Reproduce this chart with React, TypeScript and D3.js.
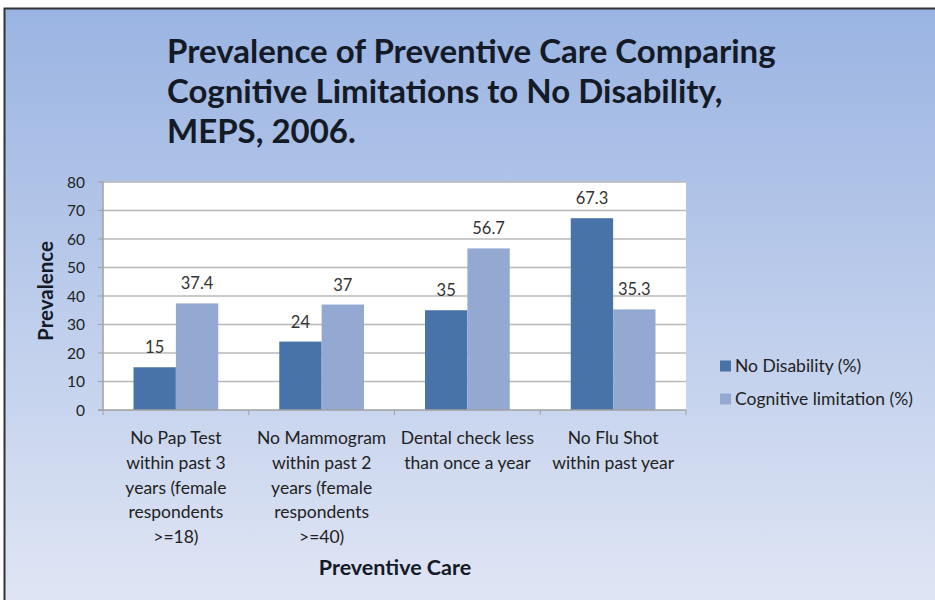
import { useEffect, useRef } from 'react';
import * as d3 from 'd3';

const categories = [
  ['No Pap Test', 'within past 3', 'years (female', 'respondents', '>=18)'],
  ['No Mammogram', 'within past 2', 'years (female', 'respondents', '>=40)'],
  ['Dental check less', 'than once a year'],
  ['No Flu Shot', 'within past year'],
];
const noDisability = [15, 24, 35, 67.3];
const cognitive = [37.4, 37, 56.7, 35.3];
const seriesNames = ['No Disability (%)', 'Cognitive limitation (%)'];
const yTicks = [0, 10, 20, 30, 40, 50, 60, 70, 80];
const titleLines = [
  'Prevalence of Preventive Care Comparing',
  'Cognitive Limitations to No Disability,',
  'MEPS, 2006.',
];

const W = 935;
const H = 600;
const FONT = 'Lato, "Open Sans", sans-serif';

export default function App() {
  const svgRef = useRef<SVGSVGElement>(null);

  useEffect(() => {
    if (!svgRef.current) return;
    const svg = d3.select(svgRef.current);
    svg.selectAll('*').remove();

    // ─── Background ─────────────────────────────
    const defs = svg.append('defs');
    const grad = defs
      .append('linearGradient')
      .attr('id', 'bg')
      .attr('x1', 0)
      .attr('y1', 0)
      .attr('x2', 0)
      .attr('y2', 1);
    grad.append('stop').attr('offset', '0%').attr('stop-color', '#9ab4e2');
    grad.append('stop').attr('offset', '100%').attr('stop-color', '#dfe5f4');

    svg.append('rect').attr('width', W).attr('height', H).attr('fill', '#ffffff');
    svg
      .append('rect')
      .attr('x', 4)
      .attr('y', 8)
      .attr('width', W - 4)
      .attr('height', H - 8)
      .attr('fill', 'url(#bg)');
    svg
      .append('path')
      .attr('d', `M4.5,${H} V8.5 H${W}`)
      .attr('fill', 'none')
      .attr('stroke', '#333')
      .attr('stroke-width', 2);

    // ─── Title ─────────────────────────────────
    svg
      .append('g')
      .selectAll('text')
      .data(titleLines)
      .join('text')
      .attr('x', 167)
      .attr('y', (_, i) => 63 + i * 40)
      .attr('font-family', FONT)
      .attr('font-weight', 700)
      .attr('font-size', 33)
      .attr('fill', '#141a26')
      .text((d) => d);

    // ─── Plot ──────────────────────────────────
    const left = 103;
    const right = 686;
    const top = 182;
    const bottom = 410;

    const x = d3
      .scaleBand<number>()
      .domain(d3.range(categories.length))
      .range([left, right])
      .paddingInner(0)
      .paddingOuter(0);
    const xs = d3
      .scaleBand<number>()
      .domain([0, 1])
      .range([0, x.bandwidth()])
      .paddingOuter(0.72)
      .paddingInner(0);
    const y = d3.scaleLinear().domain([0, 80]).range([bottom, top]);

    svg
      .append('rect')
      .attr('x', left)
      .attr('y', top)
      .attr('width', right - left)
      .attr('height', bottom - top)
      .attr('fill', '#ffffff');

    svg
      .append('g')
      .selectAll('line')
      .data(yTicks.filter((t) => t > 0))
      .join('line')
      .attr('x1', left)
      .attr('x2', right)
      .attr('y1', (d) => y(d))
      .attr('y2', (d) => y(d))
      .attr('stroke', '#b8b8b8')
      .attr('stroke-width', 1.5);

    // axis lines
    svg
      .append('line')
      .attr('x1', left)
      .attr('x2', left)
      .attr('y1', top)
      .attr('y2', bottom)
      .attr('stroke', '#a0a0a0')
      .attr('stroke-width', 1.5);
    svg
      .append('g')
      .selectAll('line')
      .data(yTicks)
      .join('line')
      .attr('x1', left - 5)
      .attr('x2', left)
      .attr('y1', (d) => y(d))
      .attr('y2', (d) => y(d))
      .attr('stroke', '#a0a0a0');

    svg
      .append('g')
      .selectAll('text')
      .data(yTicks)
      .join('text')
      .attr('x', left - 18)
      .attr('y', (d) => y(d) + 5.5)
      .attr('text-anchor', 'end')
      .attr('font-family', FONT)
      .attr('font-size', 15.5)
      .attr('fill', '#222')
      .text((d) => d);

    const series = [noDisability, cognitive];
    const colors = ['#4873a9', '#93a9d2'];
    series.forEach((vals, si) => {
      svg
        .append('g')
        .selectAll('rect')
        .data(vals)
        .join('rect')
        .attr('x', (_, i) => (x(i) ?? 0) + (xs(si) ?? 0))
        .attr('y', (d) => y(d))
        .attr('width', xs.bandwidth())
        .attr('height', (d) => bottom - y(d))
        .attr('fill', colors[si]);
      svg
        .append('g')
        .selectAll('text')
        .data(vals)
        .join('text')
        .attr('x', (_, i) => (x(i) ?? 0) + (xs(si) ?? 0) + xs.bandwidth() / 2)
        .attr('y', (d) => y(d) - 14)
        .attr('text-anchor', 'middle')
        .attr('font-family', FONT)
        .attr('font-size', 16.5)
        .attr('fill', '#333')
        .text((d) => d);
    });

    svg
      .append('line')
      .attr('x1', left - 5)
      .attr('x2', right)
      .attr('y1', bottom)
      .attr('y2', bottom)
      .attr('stroke', '#a0a0a0')
      .attr('stroke-width', 1.5);
    svg
      .append('g')
      .selectAll('line')
      .data(d3.range(categories.length + 1))
      .join('line')
      .attr('x1', (i) => left + i * x.step())
      .attr('x2', (i) => left + i * x.step())
      .attr('y1', bottom)
      .attr('y2', bottom + 5)
      .attr('stroke', '#a0a0a0');

    // category labels
    categories.forEach((lines, i) => {
      svg
        .append('g')
        .selectAll('text')
        .data(lines)
        .join('text')
        .attr('x', (x(i) ?? 0) + x.bandwidth() / 2)
        .attr('y', (_, j) => 444 + j * 24.8)
        .attr('text-anchor', 'middle')
        .attr('font-family', FONT)
        .attr('font-size', 17.5)
        .attr('fill', '#222')
        .text((d) => d);
    });

    // axis titles
    svg
      .append('text')
      .attr('x', 395)
      .attr('y', 575)
      .attr('text-anchor', 'middle')
      .attr('font-family', FONT)
      .attr('font-weight', 700)
      .attr('font-size', 21.5)
      .attr('fill', '#141a26')
      .text('Preventive Care');
    svg
      .append('text')
      .attr('transform', 'translate(53,291) rotate(-90)')
      .attr('text-anchor', 'middle')
      .attr('font-family', FONT)
      .attr('font-weight', 700)
      .attr('font-size', 20.5)
      .attr('fill', '#141a26')
      .text('Prevalence');

    // legend
    const lg = svg
      .append('g')
      .selectAll('g')
      .data(seriesNames)
      .join('g')
      .attr('transform', (_, i) => `translate(720,${366 + i * 33})`);
    lg.append('rect')
      .attr('x', 0)
      .attr('y', -5.5)
      .attr('width', 11)
      .attr('height', 11)
      .attr('fill', (_, i) => colors[i]);
    lg.append('text')
      .attr('x', 15)
      .attr('y', 6)
      .attr('font-family', FONT)
      .attr('font-size', 17.5)
      .attr('fill', '#222')
      .text((d) => d);
  }, []);

  return (
    <svg
      ref={svgRef}
      width={W}
      height={H}
      style={{ position: 'absolute', left: 0, top: 0, display: 'block' }}
    />
  );
}
